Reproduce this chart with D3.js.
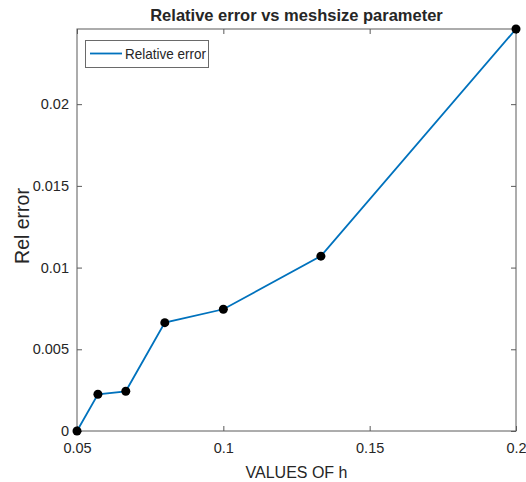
<!DOCTYPE html>
<html><head><meta charset="utf-8">
<script src="https://cdn.jsdelivr.net/npm/d3@7"></script>
<style>body{margin:0;background:#fff}svg{display:block}text{font-family:"Liberation Sans",Arial,Helvetica,sans-serif;fill:#262626}</style>
</head><body>
<svg id="chart" width="526" height="482"></svg>
<script>
const hValues = [0.05, 1/17.5, 1/15, 0.08, 0.1, 1/7.5, 0.2];
const relError = [0.0000, 0.00225, 0.00243, 0.00663, 0.00745, 0.01070, 0.0246];
const xTicks = [0.05, 0.1, 0.15, 0.2];
const xTickLabels = ["0.05", "0.1", "0.15", "0.2"];
const yTicks = [0, 0.005, 0.01, 0.015, 0.02];
const yTickLabels = ["0", "0.005", "0.01", "0.015", "0.02"];
const titleText = "Relative error vs meshsize parameter";
const xLabelText = "VALUES OF h";
const yLabelText = "Rel error";
const legendText = "Relative error";

const L = 77, R = 516, T = 29, B = 431;
const svg = d3.select("#chart");
const x = d3.scaleLinear().domain([0.05, 0.2]).range([L, R]);
const y = d3.scaleLinear().domain([0, 0.0246]).range([B, T]);
const axisColor = "#5a5a5a";

// box
svg.append("rect").attr("x", L).attr("y", T).attr("width", R - L).attr("height", B - T)
  .attr("fill", "none").attr("stroke", axisColor).attr("stroke-width", 1);

// axes with inward ticks
const xAxis = svg.append("g").attr("transform", `translate(0,${B})`)
  .call(d3.axisBottom(x).tickValues(xTicks).tickFormat((d, i) => xTickLabels[i]).tickSizeInner(-5).tickSizeOuter(0).tickPadding(12));
const yAxis = svg.append("g").attr("transform", `translate(${L},0)`)
  .call(d3.axisLeft(y).tickValues(yTicks).tickFormat((d, i) => yTickLabels[i]).tickSizeInner(-5).tickSizeOuter(0).tickPadding(8));
const xTop = svg.append("g").attr("transform", `translate(0,${T})`)
  .call(d3.axisTop(x).tickValues(xTicks).tickFormat("").tickSizeInner(-5).tickSizeOuter(0));
const yRight = svg.append("g").attr("transform", `translate(${R},0)`)
  .call(d3.axisRight(y).tickValues(yTicks).tickFormat("").tickSizeInner(-5).tickSizeOuter(0));
[xAxis, yAxis, xTop, yRight].forEach(g => {
  g.select(".domain").remove();
  g.selectAll("line").attr("stroke", axisColor);
  g.selectAll("text").attr("font-size", 14.5).attr("fill", "#262626")
    .style("font-family", '"Liberation Sans",Arial,sans-serif');
});

// line
svg.append("path").datum(hValues.map((h, i) => [h, relError[i]]))
  .attr("fill", "none").attr("stroke", "#0072BD").attr("stroke-width", 1.8)
  .attr("d", d3.line().x(d => x(d[0])).y(d => y(d[1])));
svg.selectAll("circle.pt").data(hValues).enter().append("circle")
  .attr("class", "pt").attr("cx", d => x(d)).attr("cy", (d, i) => y(relError[i]))
  .attr("r", 4.5).attr("fill", "#000");

// title and labels
svg.append("text").attr("x", (L + R) / 2).attr("y", 21).attr("text-anchor", "middle")
  .attr("font-size", 16.5).attr("font-weight", "bold").attr("fill", "#000").text(titleText);
svg.append("text").attr("x", (L + R) / 2).attr("y", 478).attr("text-anchor", "middle")
  .attr("font-size", 16).text(xLabelText);
svg.append("text").attr("transform", `translate(29,226) rotate(-90)`).attr("text-anchor", "middle")
  .attr("font-size", 19.5).text(yLabelText);

// legend
const lg = svg.append("g");
lg.append("rect").attr("x", 85.5).attr("y", 40.5).attr("width", 123).attr("height", 27)
  .attr("fill", "#fff").attr("stroke", "#6a6a6a").attr("stroke-width", 1);
lg.append("line").attr("x1", 90).attr("x2", 122).attr("y1", 53.5).attr("y2", 53.5)
  .attr("stroke", "#0072BD").attr("stroke-width", 1.8);
lg.append("text").attr("x", 125).attr("y", 59).attr("font-size", 14.5).attr("fill", "#000")
  .attr("textLength", 81).attr("lengthAdjust", "spacingAndGlyphs").text(legendText);
</script>
</body></html>
